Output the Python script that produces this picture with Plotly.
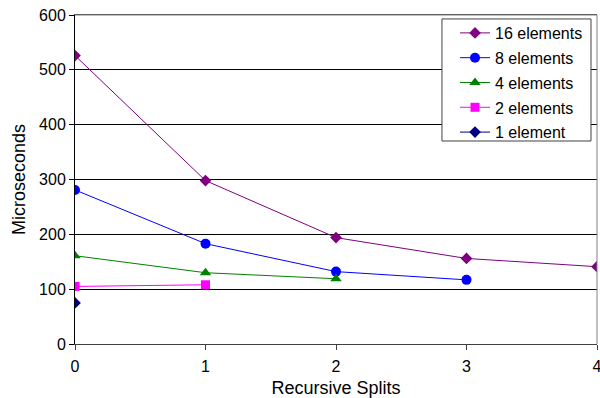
import plotly.graph_objects as go

x_vals = [0, 1, 2, 3, 4]
series_names = ["16 elements", "8 elements", "4 elements", "2 elements", "1 element"]
s16 = [526, 298, 194, 156, 141]
s8 = [281, 183, 132, 117]
s4 = [161, 130, 119]
s2 = [105, 108]
s1 = [75]
y_ticks = [0, 100, 200, 300, 400, 500, 600]

series = [s16, s8, s4, s2, s1]
colors = ["#800080", "#0000FF", "#008000", "#FF00FF", "#000080"]
symbols = ["diamond", "circle", "triangle-up", "square", "diamond"]
sizes = [9, 10, 10, 9, 9]

fig = go.Figure()
for i, (name, ys) in enumerate(zip(series_names, series)):
    fig.add_trace(go.Scatter(
        x=x_vals[:len(ys)], y=ys, name=name, mode="lines+markers",
        line=dict(color=colors[i], width=1),
        marker=dict(symbol=symbols[i], size=sizes[i], color=colors[i]),
        legendgroup=name,
    ))

font = "Liberation Sans, Arial, sans-serif"
fig.update_layout(
    width=600, height=398,
    margin=dict(l=75, r=3, t=15, b=54),
    paper_bgcolor="white", plot_bgcolor="white",
    font=dict(family=font, size=16, color="black"),
    showlegend=True,
    legend=dict(
        x=0.728, y=0.997, xanchor="left", yanchor="top",
        bgcolor="rgba(0,0,0,0)", borderwidth=0,
        font=dict(size=16), tracegroupgap=1, itemwidth=30,
    ),
    xaxis=dict(
        range=[0, 4], tickvals=x_vals, ticks="outside", ticklen=5,
        tickcolor="#404040", showline=True, linecolor="#404040", linewidth=1,
        mirror=True, showgrid=False, zeroline=False, automargin=False,
        title=dict(text="Recursive Splits", font=dict(size=18), standoff=7),
        tickfont=dict(size=16), ticklabeloverflow="allow", ticklabelstandoff=3,
    ),
    yaxis=dict(
        range=[0, 600], tickvals=y_ticks, ticks="outside", ticklen=5,
        tickcolor="black", showline=True, linecolor="black", linewidth=1,
        showgrid=True, gridcolor="black", gridwidth=1, zeroline=False,
        automargin=False,
        title=dict(text="Microseconds", font=dict(size=18), standoff=8),
        tickfont=dict(size=16),
    ),
)
fig.add_shape(type="line", xref="paper", yref="paper", x0=1, x1=1, y0=0, y1=1,
              line=dict(color="#808080", width=1))
fig.add_shape(type="line", xref="paper", yref="paper", x0=0, x1=1, y0=1, y1=1,
              line=dict(color="#808080", width=1))
# legend frame
fig.add_shape(type="rect", xref="paper", yref="paper", x0=0.703, x1=0.9885,
              y0=0.617, y1=0.988, line=dict(color="#404040", width=1),
              fillcolor="white", layer="above")

fig.write_html("out.html")
